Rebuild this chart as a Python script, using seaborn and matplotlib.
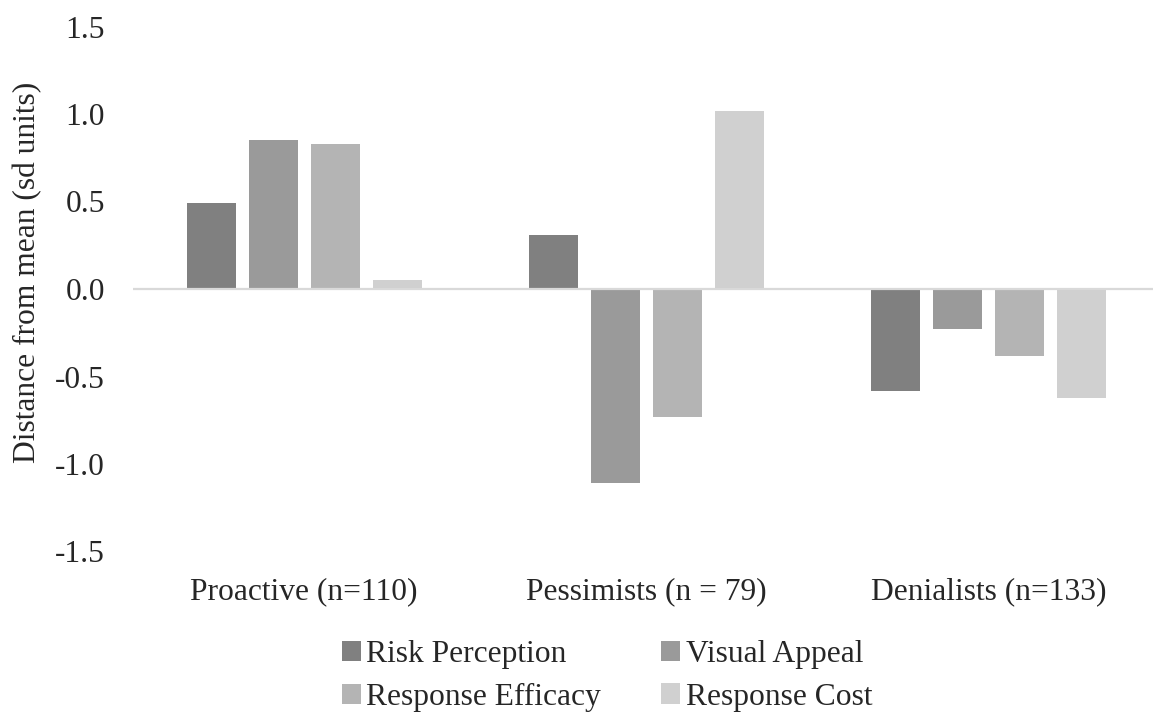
import numpy as np
import pandas as pd
import matplotlib
matplotlib.use("Agg")
import matplotlib.pyplot as plt
import seaborn as sns

# Cluster profiles: distance from the sample mean, in sd units
groups = ["Proactive (n=110)", "Pessimists (n = 79)", "Denialists (n=133)"]
measures = ["Risk Perception", "Visual Appeal", "Response Efficacy", "Response Cost"]
risk_perception = [0.49, 0.31, -0.58]
visual_appeal = [0.85, -1.11, -0.23]
response_efficacy = [0.83, -0.73, -0.38]
response_cost = [0.05, 1.02, -0.62]
y_ticks = [-1.5, -1.0, -0.5, 0.0, 0.5, 1.0, 1.5]

colors = ["#808080", "#9a9a9a", "#b4b4b4", "#d0d0d0"]

df = pd.DataFrame({
    "group": groups * 4,
    "measure": np.repeat(measures, len(groups)),
    "value": risk_perception + visual_appeal + response_efficacy + response_cost,
})

sns.set_theme(style="white")
plt.rcParams["font.family"] = ["Liberation Serif", "DejaVu Serif"]
FS = 22.7

fig = plt.figure(figsize=(11.53, 7.13), dpi=100)
ax = fig.add_axes([133 / 1153, 1 - 551.5 / 713, (1160 - 133) / 1153, 525 / 713])

sns.barplot(data=df, x="group", y="value", hue="measure", order=groups,
            hue_order=measures, palette=colors, width=0.724, gap=0.21,
            errorbar=None, linewidth=0, ax=ax, zorder=2)

ax.axhline(0, color="#d9d9d9", lw=1.6, zorder=3)
ax.set_xlim(-0.5, 2.5)
ax.set_ylim(-1.5, 1.5)
ax.set_yticks(y_ticks)
ax.set_yticklabels([f"{t:.1f}" for t in y_ticks])
for s in ax.spines.values():
    s.set_visible(False)
ax.tick_params(axis="y", length=0, pad=20, labelsize=FS)
ax.tick_params(axis="x", length=0, pad=18.5, labelsize=FS)
ax.set_xlabel("")
ax.set_ylabel("")
fig.text(28 / 1153, 1 - 272 / 713, "Distance from mean (sd units)",
         rotation=90, ha="center", va="center", fontsize=FS)

# legend entries laid out row by row
handles, labels = ax.get_legend_handles_labels()
ax.get_legend().remove()
order = [0, 2, 1, 3]
fig.legend([handles[i] for i in order], [labels[i] for i in order], ncol=2,
           loc="center", bbox_to_anchor=(607 / 1153, 1 - 676 / 713),
           frameon=False, fontsize=FS, handlelength=0.6, handleheight=0.6,
           handletextpad=0.18, columnspacing=1.9, labelspacing=0.42,
           borderpad=0, borderaxespad=0)

fig.savefig("out.png", dpi=100, facecolor="white")
